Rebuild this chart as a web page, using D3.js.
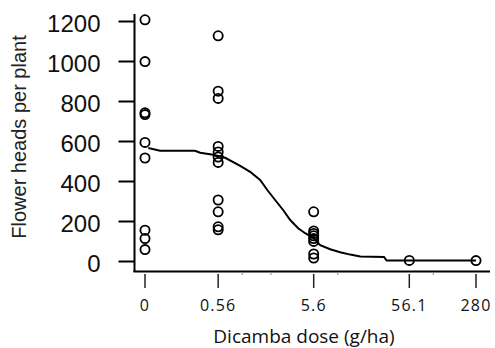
<!DOCTYPE html>
<html><head><meta charset="utf-8">
<script src="https://cdn.jsdelivr.net/npm/d3@7"></script>
<style>body{margin:0;background:#fff}svg{display:block}</style>
</head><body>
<svg id="c" width="495" height="348"></svg>
<script>
// ---- data ----
const doseLabels = ["0", "0.56", "5.6", "56.1", "280"];
const doseValues = [0, 0.56, 5.6, 56.1, 280];
const obsDose0    = [1206, 997, 741, 732, 593, 515, 154, 112, 57];
const obsDose056  = [1126, 849, 813, 573, 545, 520, 493, 305, 246, 171, 156];
const obsDose56   = [246, 150, 138, 126, 112, 98, 35, 15];
const obsDose561  = [3];
const obsDose280  = [2];
const curveDose  = [0.104, 0.138, 0.321, 0.363, 0.496, 0.663, 0.952, 1.21, 1.54, 1.83, 2.21, 2.68, 3.18, 3.85, 4.56, 5.6, 6.55, 8.33, 10.6, 13.5, 17.2, 30.5, 32.5, 280];
const curveValue = [565, 551, 551, 541, 531, 516, 476, 446, 405, 355, 305, 255, 205, 164, 139, 114, 79, 59, 44, 32, 22, 20, 2, 2];
const yTicks = [0, 200, 400, 600, 800, 1000, 1200];
const minorDoses = [1, 2, 10, 100];
const zeroSurrogate = 0.096;

// ---- chart ----
const svg = d3.select("#c");
const x = d3.scaleLog().domain([zeroSurrogate, 280]).range([145, 476]);
const xd = d => x(d === 0 ? zeroSurrogate : d);
const y = d3.scaleLinear().domain([0, 1200]).range([261, 21]);

// y axis ticks + labels
const yAxis = d3.axisLeft(y).tickValues(yTicks).tickFormat(d3.format("d"))
  .tickSize(16).tickPadding(18).tickSizeOuter(0);
const gy = svg.append("g").attr("transform", "translate(134.5,0)").call(yAxis);
gy.select(".domain").remove();
gy.selectAll(".tick line").attr("stroke", "#000").attr("stroke-width", 2);
gy.selectAll(".tick text").attr("font-family", "Liberation Sans, Arial, sans-serif")
  .attr("font-size", 24).attr("fill", "#111").attr("dy", "0.42em");

// axis lines
svg.append("line").attr("x1", 134.5).attr("x2", 134.5).attr("y1", 14).attr("y2", 272)
  .attr("stroke", "#000").attr("stroke-width", 2);
svg.append("line").attr("x1", 133.5).attr("x2", 490).attr("y1", 271.5).attr("y2", 271.5)
  .attr("stroke", "#000").attr("stroke-width", 2);

// minor marks on x axis
svg.selectAll(".minor").data(minorDoses).enter().append("line")
  .attr("x1", d => x(d)).attr("x2", d => x(d)).attr("y1", 272).attr("y2", 275)
  .attr("stroke", "#888").attr("stroke-width", 1);

// x ticks (detached)
const gx = svg.append("g");
gx.selectAll("line.xt").data(doseValues).enter().append("line")
  .attr("x1", d => xd(d)).attr("x2", d => xd(d)).attr("y1", 274).attr("y2", 288)
  .attr("stroke", "#222").attr("stroke-width", 1.5);
gx.selectAll("text").data(doseValues).enter().append("text")
  .attr("x", d => xd(d)).attr("y", 311).attr("text-anchor", "middle")
  .attr("font-family", "Open Sans, sans-serif").attr("font-size", 16)
  .attr("letter-spacing", 1.2).attr("fill", "#111")
  .text((d, i) => doseLabels[i]);

// fitted curve
const curvePts = curveDose.map((d, i) => [d, curveValue[i]]);
svg.append("path").datum(curvePts)
  .attr("d", d3.line().x(d => x(d[0])).y(d => y(d[1])))
  .attr("fill", "none").attr("stroke", "#000").attr("stroke-width", 2);

// observations
const groups = [obsDose0, obsDose056, obsDose56, obsDose561, obsDose280];
const pts = [];
groups.forEach((arr, i) => arr.forEach(v => pts.push([doseValues[i], v])));
svg.selectAll("circle").data(pts).enter().append("circle")
  .attr("cx", d => xd(d[0])).attr("cy", d => y(d[1])).attr("r", 4.6)
  .attr("fill", "none").attr("stroke", "#000").attr("stroke-width", 1.8);

// titles
svg.append("text").attr("transform", "translate(26,137) rotate(-90)")
  .attr("text-anchor", "middle").attr("font-family", "Liberation Sans, Arial, sans-serif")
  .attr("font-size", 20).attr("fill", "#222").text("Flower heads per plant");
svg.append("text").attr("x", 304).attr("y", 343).attr("text-anchor", "middle")
  .attr("font-family", "Open Sans, sans-serif").attr("font-size", 19).attr("fill", "#111")
  .text("Dicamba dose (g/ha)");
</script>
</body></html>
